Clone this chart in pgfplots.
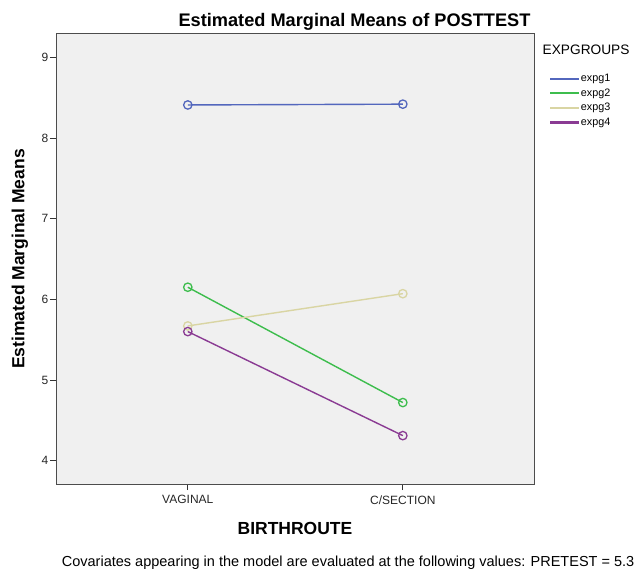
\documentclass[border=0pt]{standalone}
\usepackage{pgfplots}
\pgfplotsset{compat=1.18}
\usepackage{fontspec}
\setmainfont{Liberation Sans}
\definecolor{c1}{HTML}{5367BD}
\definecolor{c2}{HTML}{3DBD4D}
\definecolor{c3}{HTML}{D9D5A3}
\definecolor{c4}{HTML}{8A3B93}
\definecolor{bg}{HTML}{F0F0F0}
\begin{document}
\begin{tikzpicture}[x=1pt,y=1pt]
\useasboundingbox (0,0) rectangle (634,574);
\begin{axis}[
  at={(56pt,90pt)}, anchor=south west,
  scale only axis, width=478pt, height=450pt,
  xmin=0.387, xmax=2.61, ymin=3.71, ymax=9.29,
  xtick={1,2}, xticklabels={VAGINAL,C/SECTION},
  ytick={4,5,6,7,8,9},
  tick pos=left, tick align=outside, major tick length=6pt,
  tick style={black!80, line width=0.8pt},
  axis background/.style={fill=bg},
  axis line style={black!70, line width=1pt},
  /pgf/number format/assume math mode=true,
  ticklabel style={font=\fontsize{12}{13}\selectfont, text=black!85},
  xticklabel style={yshift=-2pt},
  yticklabel style={inner sep=1.5pt},
  xlabel={BIRTHROUTE}, ylabel={Estimated Marginal Means},
  label style={font=\bfseries\fontsize{17.5}{20}\selectfont},
  xlabel style={at={(axis description cs:0.5,-0.0985)}, anchor=center},
  ylabel style={at={(axis description cs:-0.0753,0.5)}, anchor=center},
  legend style={at={(1.033,0.915)}, anchor=north west, draw=none, fill=none,
    font=\fontsize{10.8}{12}\selectfont, row sep=1.5pt, inner sep=0pt},
  legend cell align=left,
  legend image code/.code={\fill[#1, draw=none] (0pt,-1.1pt) rectangle (29pt,1.1pt);},
  clip=false,
]
\addplot[c1, line width=1.4pt, mark=o, mark size=4.2pt, mark options={line width=1.3pt}] coordinates {(1,8.41) (2,8.42)};
\addplot[c2, line width=1.4pt, mark=o, mark size=4.2pt, mark options={line width=1.3pt}] coordinates {(1,6.15) (2,4.72)};
\addplot[c3, line width=1.4pt, mark=o, mark size=4.2pt, mark options={line width=1.3pt}] coordinates {(1,5.67) (2,6.07)};
\addplot[c4, line width=1.4pt, mark=o, mark size=4.2pt, mark options={line width=1.3pt}] coordinates {(1,5.60) (2,4.31)};
\legend{expg1,expg2,expg3,expg4}
\end{axis}
\node[anchor=base, font=\bfseries\fontsize{18.2}{20}\selectfont] at (354.5,547.3) {Estimated Marginal Means of POSTTEST};
\node[anchor=west, inner sep=0pt, font=\fontsize{13.7}{15}\selectfont] at (542.5,524) {EXPGROUPS};
\node[anchor=base west, inner sep=0pt, font=\fontsize{14.5}{16}\selectfont] at (61.7,8) {Covariates appearing in the model are evaluated at the following values: PRETEST = 5.35.};
\end{tikzpicture}
\end{document}
